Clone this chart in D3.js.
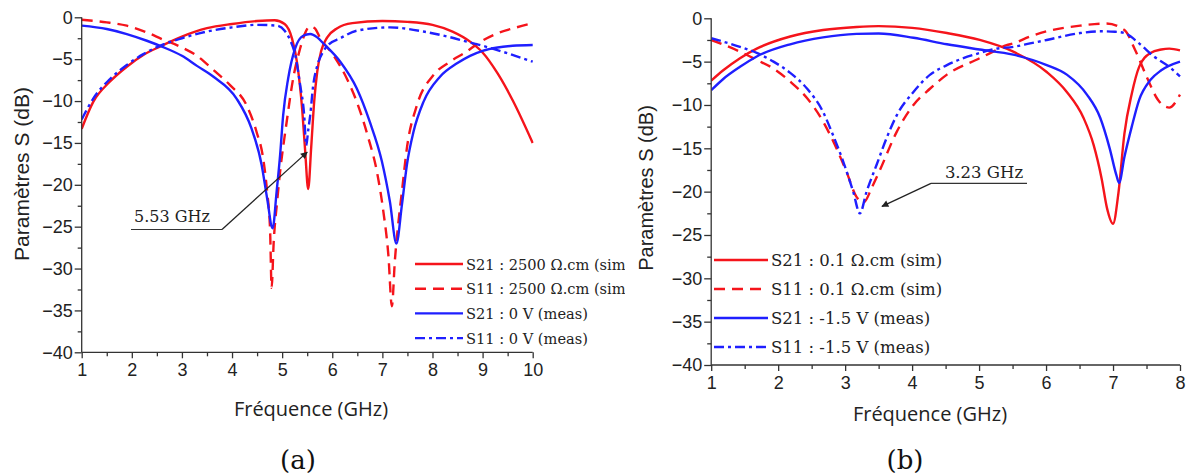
<!DOCTYPE html>
<html><head><meta charset="utf-8">
<script src="https://cdn.jsdelivr.net/npm/d3@7"></script>
<style>
body{margin:0;background:#fff;}
svg{display:block;}
</style></head><body>
<svg id="chart" width="1187" height="474"></svg>
<script>
// ---------- DATA (panel a) ----------
const aS21simF = [1.0,1.23,1.56,1.9,2.23,2.56,3.0,3.5,4.0,4.5,4.85,5.05,5.2,5.3,5.4,5.46,5.52,5.58,5.64,5.7,5.78,5.9,6.1,6.4,7.0,7.5,8.0,8.4,8.75,9.0,9.3,9.6,10.0];
const aS21simV = [-13.3,-10.1,-7.7,-5.9,-4.5,-3.5,-2.3,-1.3,-0.8,-0.45,-0.35,-0.8,-2.6,-5.5,-11.0,-16.0,-20.5,-15.5,-10.0,-6.5,-4.0,-2.4,-1.3,-0.7,-0.45,-0.55,-0.9,-1.7,-2.9,-4.2,-6.7,-9.9,-15.0];
const aS11simF = [1.0,1.5,1.9,2.3,2.6,3.0,3.3,3.63,3.96,4.29,4.49,4.62,4.70,4.76,4.79,4.83,4.9,4.96,5.09,5.22,5.36,5.45,5.55,5.65,5.76,6.02,6.29,6.49,6.72,6.89,7.02,7.12,7.19,7.25,7.32,7.39,7.49,7.69,8.02,8.35,8.68,8.91,9.3,9.68,10.0];
const aS11simV = [-0.3,-0.6,-1.0,-1.8,-2.6,-3.6,-4.6,-6.3,-8.1,-10.5,-13.7,-16.8,-20.8,-25.5,-32.3,-27,-22,-18.4,-12.5,-7.3,-3.7,-2.0,-1.1,-1.3,-2.5,-4.5,-7.3,-10.1,-14.4,-18.4,-23.2,-28.4,-34.5,-29,-24.5,-20.8,-15.6,-10.5,-6.9,-5.3,-4.1,-3.1,-1.9,-1.2,-0.7];
const aS21measF = [1.0,1.5,1.9,2.3,2.6,3.0,3.3,3.63,4.09,4.39,4.59,4.70,4.81,4.89,4.96,5.02,5.12,5.26,5.42,5.56,5.7,5.82,6.16,6.49,6.75,6.99,7.15,7.28,7.39,7.49,7.62,7.82,8.15,8.49,8.75,9.0,9.3,9.6,10.0];
const aS21measV = [-1.0,-1.4,-2.0,-2.8,-3.5,-4.6,-5.8,-7.1,-9.7,-13.3,-17.6,-21.6,-25.2,-20.8,-16.4,-11.7,-7.3,-3.7,-2.2,-2.0,-2.4,-3.1,-5.3,-8.5,-12.5,-17.2,-22.0,-27.0,-22.4,-17.6,-13.7,-10.1,-7.1,-5.5,-4.6,-4.0,-3.6,-3.4,-3.3];
const aS11measF = [1.0,1.23,1.56,1.9,2.23,2.56,3.0,3.5,4.0,4.5,4.89,5.05,5.15,5.26,5.36,5.44,5.48,5.52,5.56,5.62,5.7,5.82,5.92,6.16,6.49,7.15,7.82,8.3,8.68,9.0,9.5,10.0];
const aS11measV = [-12.2,-9.7,-7.4,-5.7,-4.4,-3.4,-2.5,-1.7,-1.2,-0.9,-1.0,-1.6,-2.6,-4.5,-8.1,-11.7,-15.3,-13.5,-11.7,-8.1,-5.8,-4.1,-3.3,-2.5,-1.6,-1.2,-1.7,-2.3,-2.9,-3.4,-4.3,-5.3];

// ---------- DATA (panel b) ----------
const bS21simF = [1.0,1.18,1.43,1.68,2.18,2.67,3.17,3.5,4.0,4.52,5.01,5.51,6.01,6.31,6.56,6.71,6.83,6.91,7.0,7.08,7.17,7.28,7.39,7.56,7.72,7.84,8.0];
const bS21simV = [-7.2,-6.0,-4.6,-3.5,-2.1,-1.35,-1.0,-0.9,-1.1,-1.7,-2.5,-3.85,-6.2,-8.5,-11.5,-14.6,-18.5,-21.9,-23.7,-20.2,-13.3,-8.7,-5.6,-4.0,-3.6,-3.5,-3.7];
const bS11simF = [1.0,1.43,1.68,1.93,2.18,2.43,2.67,2.87,3.02,3.17,3.28,3.4,3.52,3.77,4.02,4.27,4.52,5.01,5.21,5.41,5.51,5.76,6.01,6.51,6.9,7.17,7.33,7.5,7.67,7.84,8.0];
const bS11simV = [-2.5,-3.85,-4.8,-5.8,-7.3,-9.2,-11.9,-15.0,-17.7,-20.6,-21.2,-19.5,-17.5,-13.1,-10.0,-8.1,-6.5,-4.6,-3.85,-3.1,-2.9,-2.1,-1.5,-0.85,-0.6,-1.35,-3.65,-6.7,-9.4,-10.3,-8.8];
const bS21measF = [1.0,1.18,1.43,1.68,2.18,2.67,3.17,3.5,4.02,4.52,5.01,5.51,6.01,6.31,6.61,6.81,6.95,7.05,7.09,7.17,7.28,7.39,7.56,7.72,8.0];
const bS21measV = [-8.3,-7.0,-5.6,-4.4,-3.0,-2.2,-1.8,-1.75,-2.25,-3.0,-3.6,-4.2,-5.4,-6.5,-8.8,-11.5,-15.0,-18.1,-19.0,-16.0,-12.5,-9.4,-7.1,-6.0,-5.0];
const bS11measF = [1.0,1.43,1.68,1.93,2.18,2.43,2.67,2.82,2.97,3.12,3.22,3.32,3.47,3.62,3.77,4.02,4.27,4.52,5.01,5.26,5.51,5.76,6.01,6.51,6.83,7.03,7.17,7.39,7.61,7.84,8.0];
const bS11measV = [-2.3,-3.3,-4.0,-5.0,-6.3,-8.1,-10.8,-13.5,-16.5,-20.0,-22.5,-20.0,-16.9,-13.8,-11.2,-8.5,-6.5,-5.4,-4.0,-3.5,-3.3,-2.9,-2.5,-1.7,-1.5,-1.55,-1.7,-2.9,-4.4,-5.6,-6.7];

// ---------- TICKS / LABELS ----------
const yTicks = [0,-5,-10,-15,-20,-25,-30,-35,-40];
const aXTicks = [1,2,3,4,5,6,7,8,9,10];
const bXTicks = [1,2,3,4,5,6,7,8];
const aLegend = ["S21 : 2500 \u03A9.cm (sim)","S11 : 2500 \u03A9.cm (sim)","S21 : 0 V (meas)","S11 : 0 V (meas)"];
const bLegend = ["S21 : 0.1 \u03A9.cm (sim)","S11 : 0.1 \u03A9.cm (sim)","S21 : -1.5 V (meas)","S11 : -1.5 V (meas)"];
const yTitle = "Param\u00E8tres S (dB)";
const xTitle = "Fr\u00E9quence (GHz)";
const aNote = "5.53 GHz", bNote = "3.23 GHz";

const RED = "#f5141b", BLUE = "#1f1fff";
const styles = [
  {color:RED, dash:null},
  {color:RED, dash:"11,7"},
  {color:BLUE, dash:null},
  {color:BLUE, dash:"10,4,3,4"}
];

const svg = d3.select("#chart");
const defs = svg.append("defs");
defs.append("marker").attr("id","arrow").attr("viewBox","0 0 10 10").attr("refX",9).attr("refY",5)
  .attr("markerWidth",9).attr("markerHeight",7).attr("markerUnits","userSpaceOnUse").attr("orient","auto")
  .append("path").attr("d","M0,0L10,5L0,10z").attr("fill","#222");

function panel(cfg){
  const clipId = cfg.id + "clip";
  defs.append("clipPath").attr("id", clipId).append("rect")
    .attr("x", cfg.clip[0]).attr("y", 0).attr("width", cfg.clip[1]-cfg.clip[0]).attr("height", 474);
  const g = svg.append("g").attr("clip-path", `url(#${clipId})`);
  const x = d3.scaleLinear().domain(cfg.xDomain).range(cfg.xRange);
  const y = d3.scaleLinear().domain([-40,0]).range(cfg.yRange);

  const line = d3.line().x(d=>x(d[0])).y(d=>y(d[1])).curve(d3.curveMonotoneX);
  const plotClip = cfg.id + "plot";
  defs.append("clipPath").attr("id", plotClip).append("rect")
    .attr("x", cfg.xRange[0]).attr("y", cfg.yRange[1]-6).attr("width", cfg.xRange[1]-cfg.xRange[0]+1).attr("height", cfg.yRange[0]-cfg.yRange[1]+6);
  const pg = g.append("g").attr("clip-path", `url(#${plotClip})`);
  cfg.series.forEach((s,i)=>{
    const pts = s.f.map((f,k)=>[f, s.v[k]]);
    pg.append("path").attr("d", line(pts)).attr("fill","none")
      .attr("stroke", styles[i].color).attr("stroke-width", 2.4)
      .attr("stroke-dasharray", styles[i].dash).attr("stroke-linejoin","round");
  });

  // y axis
  const yAxis = d3.axisLeft(y).tickValues(yTicks).tickSize(7).tickPadding(2).tickFormat(d3.format("d"));
  const ya = g.append("g").attr("transform", `translate(${cfg.xRange[0]},0)`).call(yAxis);
  const yMinor = d3.axisLeft(y).tickValues(yTicks.slice(0,-1).map(v=>v-2.5)).tickSize(4).tickFormat("");
  g.append("g").attr("transform", `translate(${cfg.xRange[0]},0)`).call(yMinor).select(".domain").remove();
  ya.selectAll("text").attr("font-family","Liberation Sans, Arial, sans-serif").attr("font-size", cfg.tickFont).attr("fill","#222");

  // x axis
  const xAxis = d3.axisBottom(x).tickValues(cfg.xTicks).tickSize(6).tickPadding(cfg.xPad).tickFormat(d3.format("d"));
  const xa = g.append("g").attr("transform", `translate(0,${cfg.yRange[0]})`).call(xAxis);
  const xm = []; for (let v=cfg.xDomain[0]+0.5; v<cfg.xDomain[1]; v+=1) xm.push(v);
  g.append("g").attr("transform", `translate(0,${cfg.yRange[0]})`).call(d3.axisBottom(x).tickValues(xm).tickSize(4).tickFormat("")).select(".domain").remove();
  xa.selectAll("text").attr("font-family","Liberation Sans, Arial, sans-serif").attr("font-size", cfg.tickFont).attr("fill","#222");
  g.selectAll(".domain, .tick line").attr("stroke","#333").attr("stroke-width",1.3);
  ya.select(".domain").attr("d", `M-0,${cfg.yRange[0]}V${cfg.yRange[1]}`);
  xa.select(".domain").attr("d", `M${cfg.xRange[0]},0H${cfg.xRange[1]}`);

  // titles
  g.append("text").attr("transform", `translate(${cfg.yTitlePos[0]},${cfg.yTitlePos[1]}) rotate(-90)`)
    .attr("text-anchor","middle").attr("dominant-baseline","central")
    .attr("font-family","Liberation Sans, Arial, sans-serif").attr("font-size", cfg.yTitleFont).attr("fill","#222").text(yTitle);
  g.append("text").attr("x", cfg.xTitlePos[0]).attr("y", cfg.xTitlePos[1])
    .attr("text-anchor","middle").attr("dominant-baseline","central")
    .attr("font-family","Open Sans, sans-serif").attr("font-size", cfg.xTitleFont).attr("fill","#222").text(xTitle);
  g.append("text").attr("x", cfg.capPos[0]).attr("y", cfg.capPos[1])
    .attr("text-anchor","middle").attr("dominant-baseline","central")
    .attr("font-family","DejaVu Serif, serif").attr("font-size", 26).attr("fill","#111").text(cfg.caption);

  // legend
  cfg.legend.forEach((t,i)=>{
    const ly = cfg.legPos[1] + i*cfg.legStep;
    g.append("line").attr("x1", cfg.legPos[0]).attr("x2", cfg.legPos[0]+cfg.legLen).attr("y1", ly).attr("y2", ly)
      .attr("stroke", styles[i].color).attr("stroke-width", 2.4).attr("stroke-dasharray", styles[i].dash);
    g.append("text").attr("x", cfg.legPos[0]+cfg.legLen+3).attr("y", ly).attr("dominant-baseline","central")
      .attr("font-family","DejaVu Serif, serif").attr("font-size", cfg.legFont).attr("fill","#222").text(t);
  });

  // annotation
  const n = cfg.note;
  g.append("text").attr("x", n.tx).attr("y", n.ty).attr("text-anchor","middle")
    .attr("font-family","DejaVu Serif, serif").attr("font-size", n.fs).attr("fill","#222").text(n.text);
  g.append("path").attr("d", `M${n.ux0},${n.uy}H${n.ux1}`).attr("stroke","#333").attr("stroke-width",1.2);
  g.append("line").attr("x1", n.ax0).attr("y1", n.uy).attr("x2", x(n.fTip)).attr("y2", y(n.dTip))
    .attr("stroke","#222").attr("stroke-width",1.3).attr("marker-end","url(#arrow)");
}

panel({
  id:"a", clip:[0,625], xDomain:[1,10], xRange:[81.7,532.7], yRange:[352.3,17.3], xTicks:aXTicks,
  series:[{f:aS21simF,v:aS21simV},{f:aS11simF,v:aS11simV},{f:aS21measF,v:aS21measV},{f:aS11measF,v:aS11measV}],
  tickFont:18, xPad:5, yTitleFont:21, xTitleFont:20,
  yTitlePos:[21,174], xTitlePos:[311,408], capPos:[298,460], caption:"(a)",
  legend:aLegend, legPos:[415,264], legStep:24.7, legLen:48, legFont:14.6,
  note:{text:aNote, tx:172, ty:222, fs:16, ux0:131, ux1:222, uy:229.5, ax0:222, fTip:5.5, dTip:-16.1}
});
panel({
  id:"b", clip:[625,1187], xDomain:[1,8], xRange:[711.2,1180], yRange:[365,18.3], xTicks:bXTicks,
  series:[{f:bS21simF,v:bS21simV},{f:bS11simF,v:bS11simV},{f:bS21measF,v:bS21measV},{f:bS11measF,v:bS11measV}],
  tickFont:18, xPad:5, yTitleFont:20, xTitleFont:20,
  yTitlePos:[646,188], xTitlePos:[930,413], capPos:[905,460], caption:"(b)",
  legend:bLegend, legPos:[714,260], legStep:29, legLen:54, legFont:16.5,
  note:{text:bNote, tx:984, ty:178, fs:16.5, ux0:931, ux1:1027, uy:183.3, ax0:931, fTip:3.55, dTip:-21.7}
});
</script>
</body></html>
